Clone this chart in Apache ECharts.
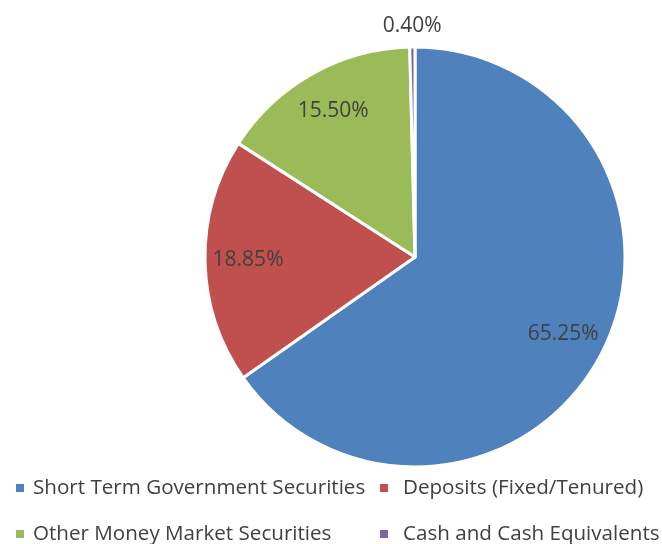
<!DOCTYPE html>
<html>
<head>
<meta charset="utf-8">
<script src="https://cdn.jsdelivr.net/npm/echarts@6/dist/echarts.min.js"></script>
<style>
html,body{margin:0;padding:0;background:#fff;}
#chart{width:662px;height:544px;}
</style>
</head>
<body>
<div id="chart"></div>
<script>
var categories = ['Short Term Government Securities', 'Deposits (Fixed/Tenured)', 'Other Money Market Securities', 'Cash and Cash Equivalents'];
var values = [65.25, 18.85, 15.50, 0.40];
var colors = ['#4F81BD', '#C0504D', '#9BBB59', '#8064A2'];

var FONT = 'Open Sans';
var TXT = '#404040';
var center = [415, 257];
var R = 210;

function mainData() {
  return categories.map(function (c, i) {
    return { name: c, value: values[i], itemStyle: { color: colors[i] } };
  });
}
function labelData(showIdx) {
  return categories.map(function (c, i) {
    return { name: c, value: values[i], label: { show: showIdx(i) } };
  });
}
var fmt = function (p) { return p.value.toFixed(2) + '%'; };

// legend slots: [left, top, textPadLeft]
var legendPos = [[16, 476, 4], [380, 476, 10], [16, 522, 4], [380, 522, 10]];
var legends = categories.map(function (c, i) {
  return {
    data: [c], orient: 'horizontal',
    left: legendPos[i][0], top: legendPos[i][1], padding: 0,
    itemWidth: 8, itemHeight: 8, icon: 'rect',
    itemStyle: { borderWidth: 0, borderColor: 'transparent' },
    textStyle: { fontFamily: FONT, fontSize: 20.6, lineHeight: 24, color: TXT, padding: [0, 0, 0, legendPos[i][2]] },
    selectedMode: false
  };
});

var chart = echarts.init(document.getElementById('chart'), null, { renderer: 'canvas' });
chart.setOption({
  animation: false,
  backgroundColor: '#ffffff',
  legend: legends,
  series: [
    {
      type: 'pie', center: center, radius: [0, R],
      startAngle: 90, clockwise: true, silent: true,
      label: { show: false }, labelLine: { show: false },
      itemStyle: { borderColor: '#ffffff', borderWidth: 3 },
      emphasis: { disabled: true },
      data: mainData()
    },
    {
      type: 'pie', center: center, radius: [118, R],
      startAngle: 90, clockwise: true, silent: true,
      itemStyle: { color: 'rgba(0,0,0,0)', borderWidth: 0 },
      label: { show: true, position: 'inside', formatter: fmt, fontFamily: FONT, fontSize: 21, color: TXT },
      labelLine: { show: false },
      emphasis: { disabled: true },
      data: labelData(function (i) { return i < 3; })
    },
    {
      type: 'pie', center: center, radius: [R + 8, R + 28],
      startAngle: 90, clockwise: true, silent: true,
      itemStyle: { color: 'rgba(0,0,0,0)', borderWidth: 0 },
      label: { show: true, position: 'inside', formatter: fmt, fontFamily: FONT, fontSize: 21, color: TXT },
      labelLine: { show: false },
      emphasis: { disabled: true },
      data: labelData(function (i) { return i === 3; })
    }
  ]
});
</script>
</body>
</html>
